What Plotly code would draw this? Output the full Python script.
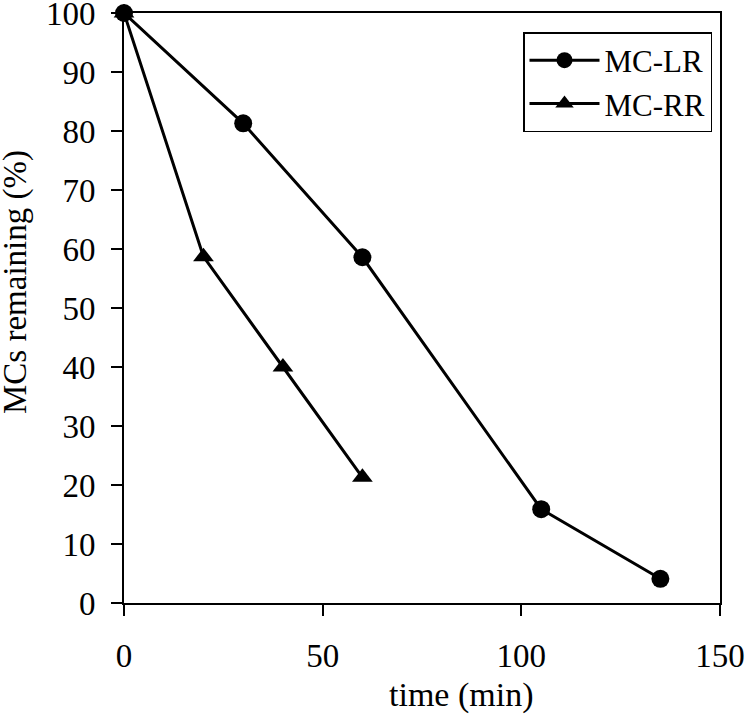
import plotly.graph_objects as go

time_lr = [0, 30, 60, 105, 135]
mc_lr = [100, 81.3, 58.6, 15.9, 4.1]
time_rr = [0, 20, 40, 60]
mc_rr = [100, 58.7, 40.0, 21.3]
x_ticks = [0, 50, 100, 150]
y_ticks = [0, 10, 20, 30, 40, 50, 60, 70, 80, 90, 100]

FONT = "Liberation Serif, Times New Roman, serif"
W, H = 746, 715
L, T = 124, 13
R = W - 720
B = H - 603
PW, PH = W - L - R, H - T - B


def px(x):
    return (x - L) / PW


def py(y):
    return (H - B - y) / PH


fig = go.Figure()
fig.add_trace(go.Scatter(
    x=time_lr, y=mc_lr, name="MC-LR", mode="lines+markers",
    line=dict(color="black", width=3),
    marker=dict(symbol="circle", size=18, color="black"),
    legendgroup="a", cliponaxis=False))
fig.add_trace(go.Scatter(
    x=time_rr, y=mc_rr, name="MC-RR", mode="lines+markers",
    line=dict(color="black", width=3),
    marker=dict(symbol="triangle-up", size=18, color="black"),
    legendgroup="b", cliponaxis=False))

fig.update_layout(
    width=W, height=H,
    margin=dict(l=L, r=R, t=T, b=B, autoexpand=False),
    paper_bgcolor="white", plot_bgcolor="white",
    font=dict(family=FONT, size=30, color="black"),
    showlegend=True,
    legend=dict(x=px(523), y=py(32), xanchor="left", yanchor="top",
                bordercolor="black", borderwidth=1.5, bgcolor="white",
                font=dict(family=FONT, size=31), tracegroupgap=0,
                itemwidth=70),
    xaxis=dict(range=[0, 150], tickvals=x_ticks, showgrid=False, zeroline=False,
               showline=True, linecolor="black", linewidth=2, mirror=True,
               ticks="outside", ticklen=11, tickwidth=1.5, tickcolor="black",
               ticklabelstandoff=11, tickfont=dict(size=33), automargin=False,
               ticklabeloverflow="allow"),
    yaxis=dict(range=[0, 100], tickvals=y_ticks, showgrid=False, zeroline=False,
               showline=True, linecolor="black", linewidth=2, mirror=True,
               ticks="outside", ticklen=11, tickwidth=1.5, tickcolor="black",
               ticklabelstandoff=9, tickfont=dict(size=33), automargin=False,
               ticklabeloverflow="allow"),
    annotations=[
        dict(text="time (min)", xref="paper", yref="paper",
             x=px(461), y=py(695),
             xanchor="center", yanchor="middle", showarrow=False,
             font=dict(size=34)),
        dict(text="MCs remaining (%)", xref="paper", yref="paper",
             x=px(15), y=py(282), textangle=-90,
             xanchor="center", yanchor="middle", showarrow=False,
             font=dict(size=33)),
    ],
)

fig.write_html(
    "out.html",
    config={"displayModeBar": False},
    post_script="document.body.style.margin='0';document.body.style.overflow='hidden';",
)
